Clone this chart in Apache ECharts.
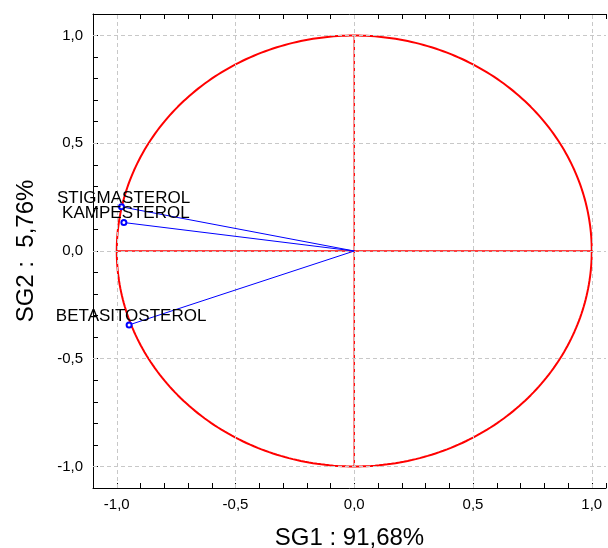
<!DOCTYPE html>
<html lang="en">
<head>
	<meta charset="utf-8">
	<title>SG1 / SG2</title>
	<script src="https://cdn.jsdelivr.net/npm/echarts@6/dist/echarts.min.js"></script>
	<style>
		html, body { margin: 0; padding: 0; background: #fff; }
		#chart { width: 608px; height: 548px; }
	</style>
</head>
<body>
<div id="chart"></div>
<script>
    // variables (SG1, SG2 loadings)
    var varNames = ['STIGMASTEROL', 'KAMPESTEROL', 'BETASITOSTEROL'];
    var sg1 = [-0.98, -0.97, -0.948];
    var sg2 = [0.205, 0.132, -0.343];
    // major tick values (labels + grid lines)
    var majorTicks = [-1.0, -0.5, 0.0, 0.5, 1.0];

    // unit circle of correlations
    var circleSteps = 360;
    var unitCircle = [];
    for (var i = 0; i <= circleSteps; i++) {
        var a = 2 * Math.PI * i / circleSteps;
        unitCircle.push([Math.cos(a), Math.sin(a)]);
    }

    function fmt(v) {
        var r = Math.round(v * 10);
        if (r % 5 !== 0) return '';
        return (r / 10).toFixed(1).replace('.', ',');
    }

    var font = 'Liberation Sans, Arial, sans-serif';
    var chart = echarts.init(document.getElementById('chart'));

    var gridLines = [];
    majorTicks.forEach(function (v) {
        gridLines.push({ xAxis: v });
        gridLines.push({ yAxis: v });
    });

    var series = [{
        type: 'line',
        data: unitCircle,
        symbol: 'none',
        silent: true,
        lineStyle: { color: '#ff0000', width: 2 },
        markLine: {
            silent: true,
            symbol: 'none',
            label: { show: false },
            lineStyle: { color: '#c8c8c8', type: [4, 3], width: 1 },
            data: gridLines
        },
        z: 2
    }, {
        // cross through origin
        type: 'line',
        data: [[-1, 0], [1, 0]],
        symbol: 'none',
        silent: true,
        lineStyle: { color: '#ff0000', width: 1.4 },
        z: 3
    }, {
        type: 'line',
        data: [[0, -1], [0, 1]],
        symbol: 'none',
        silent: true,
        lineStyle: { color: '#ff0000', width: 1.4 },
        z: 3
    }];

    varNames.forEach(function (name, k) {
        series.push({
            type: 'line',
            name: name,
            data: [
                { value: [0, 0], symbol: 'none', label: { show: false } },
                { value: [sg1[k], sg2[k]] }
            ],
            symbol: 'emptyCircle',
            symbolSize: 5,
            showSymbol: true,
            lineStyle: { color: '#0000ff', width: 1 },
            itemStyle: { color: '#0000ff', borderColor: '#0000ff', borderWidth: 1 },
            label: {
                show: true,
                position: 'top',
                distance: 0,
                offset: [2, 3],
                formatter: name,
                color: '#000',
                fontSize: 17,
                fontFamily: font
            },
            z: 5
        });
    });

    var option = {
        animation: false,
        backgroundColor: '#fff',
        grid: { left: 93, right: 2, top: 14, bottom: 60, outerBoundsMode: 'none', containLabel: false },
        xAxis: [{
            type: 'value',
            position: 'bottom',
            min: -1.1,
            max: 1.06,
            interval: 0.1,
            name: 'SG1 : 91,68%',
            nameLocation: 'middle',
            nameGap: 38,
            nameTextStyle: { fontSize: 24, color: '#000', fontFamily: font },
            axisLine: { show: true, onZero: false, lineStyle: { color: '#000', width: 1 } },
            axisTick: { show: true, inside: true, length: 5, lineStyle: { color: '#000' } },
            axisLabel: { formatter: fmt, fontSize: 15, color: '#000', fontFamily: font, margin: 9 },
            splitLine: { show: false }
        }, {
            type: 'value',
            position: 'top',
            min: -1.1,
            max: 1.06,
            interval: 0.1,
            axisLine: { show: true, onZero: false, lineStyle: { color: '#000', width: 1 } },
            axisTick: { show: true, inside: true, length: 5, lineStyle: { color: '#000' } },
            axisLabel: { show: false },
            splitLine: { show: false }
        }],
        yAxis: {
            type: 'value',
            min: -1.1,
            max: 1.1,
            interval: 0.1,
            name: 'SG2 :  5,76%',
            nameLocation: 'middle',
            nameGap: 55,
            nameTextStyle: { fontSize: 24, color: '#000', fontFamily: font },
            axisLine: { show: true, onZero: false, lineStyle: { color: '#000', width: 1 } },
            axisTick: { show: true, inside: true, length: 5, lineStyle: { color: '#000' } },
            axisLabel: { formatter: fmt, fontSize: 15, color: '#000', fontFamily: font, margin: 10 },
            splitLine: { show: false }
        },
        series: series
    };
    chart.setOption(option);
</script>
</body>
</html>
